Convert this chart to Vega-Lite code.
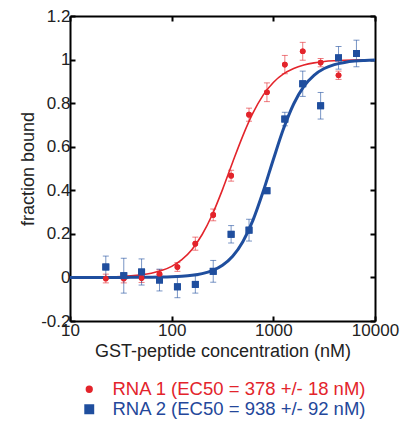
{
  "$schema": "https://vega.github.io/schema/vega-lite/v6.json",
  "width": 305,
  "height": 305,
  "autosize": {"type": "none"},
  "padding": {"left": 70, "top": 16, "right": 42, "bottom": 102},
  "background": "white",
  "config": {
    "font": "Liberation Sans",
    "view": {"stroke": null},
    "axis": {
      "domainColor": "black", "domainWidth": 2, "tickColor": "black", "tickWidth": 2,
      "tickSize": -5, "grid": false, "labelFont": "Liberation Sans", "labelFontSize": 17,
      "labelColor": "#222", "titleFont": "Liberation Sans", "titleFontSize": 18,
      "titleFontWeight": "normal", "titleColor": "#222"
    }
  },
  "datasets": {
    "pts": [
      {"series": "RNA 1", "conc": 22.5, "y": -0.005, "lo": -0.025, "hi": 0.015},
      {"series": "RNA 1", "conc": 33.8, "y": -0.005, "lo": -0.025, "hi": 0.015},
      {"series": "RNA 1", "conc": 50.6, "y": -0.003, "lo": -0.023, "hi": 0.017},
      {"series": "RNA 1", "conc": 75.9, "y": 0.015, "lo": -0.005, "hi": 0.035},
      {"series": "RNA 1", "conc": 113.9, "y": 0.048, "lo": 0.028, "hi": 0.068},
      {"series": "RNA 1", "conc": 170.9, "y": 0.155, "lo": 0.125, "hi": 0.185},
      {"series": "RNA 1", "conc": 256.3, "y": 0.287, "lo": 0.26, "hi": 0.314},
      {"series": "RNA 1", "conc": 384.4, "y": 0.467, "lo": 0.442, "hi": 0.492},
      {"series": "RNA 1", "conc": 576.7, "y": 0.747, "lo": 0.717, "hi": 0.777},
      {"series": "RNA 1", "conc": 865, "y": 0.85, "lo": 0.807, "hi": 0.893},
      {"series": "RNA 1", "conc": 1297.5, "y": 0.977, "lo": 0.935, "hi": 1.019},
      {"series": "RNA 1", "conc": 1946, "y": 1.038, "lo": 0.997, "hi": 1.079},
      {"series": "RNA 1", "conc": 2919, "y": 0.986, "lo": 0.967, "hi": 1.005},
      {"series": "RNA 1", "conc": 4379, "y": 0.928, "lo": 0.909, "hi": 0.947},
      {"series": "RNA 2", "conc": 22.5, "y": 0.048, "lo": -0.002, "hi": 0.098},
      {"series": "RNA 2", "conc": 33.8, "y": 0.008, "lo": -0.072, "hi": 0.088},
      {"series": "RNA 2", "conc": 50.6, "y": 0.025, "lo": -0.035, "hi": 0.085},
      {"series": "RNA 2", "conc": 75.9, "y": -0.012, "lo": -0.062, "hi": 0.038},
      {"series": "RNA 2", "conc": 113.9, "y": -0.043, "lo": -0.093, "hi": 0.007},
      {"series": "RNA 2", "conc": 170.9, "y": -0.032, "lo": -0.072, "hi": 0.008},
      {"series": "RNA 2", "conc": 256.3, "y": 0.028, "lo": -0.022, "hi": 0.078},
      {"series": "RNA 2", "conc": 384.4, "y": 0.198, "lo": 0.158, "hi": 0.238},
      {"series": "RNA 2", "conc": 576.7, "y": 0.217, "lo": 0.167, "hi": 0.267},
      {"series": "RNA 2", "conc": 865, "y": 0.398, "lo": 0.388, "hi": 0.408},
      {"series": "RNA 2", "conc": 1297.5, "y": 0.727, "lo": 0.696, "hi": 0.758},
      {"series": "RNA 2", "conc": 1946, "y": 0.889, "lo": 0.831, "hi": 0.947},
      {"series": "RNA 2", "conc": 2919, "y": 0.788, "lo": 0.727, "hi": 0.849},
      {"series": "RNA 2", "conc": 4379, "y": 1.008, "lo": 0.956, "hi": 1.06},
      {"series": "RNA 2", "conc": 6568, "y": 1.028, "lo": 0.967, "hi": 1.089}
    ],
    "fit": [
      {"series": "RNA 1", "conc": 10, "y": 0.0003},
      {"series": "RNA 1", "conc": 12.6, "y": 0.0006},
      {"series": "RNA 1", "conc": 15.8, "y": 0.0009},
      {"series": "RNA 1", "conc": 20, "y": 0.0016},
      {"series": "RNA 1", "conc": 25.1, "y": 0.0026},
      {"series": "RNA 1", "conc": 31.6, "y": 0.0043},
      {"series": "RNA 1", "conc": 39.8, "y": 0.007},
      {"series": "RNA 1", "conc": 50.1, "y": 0.0116},
      {"series": "RNA 1", "conc": 63.1, "y": 0.0191},
      {"series": "RNA 1", "conc": 79.4, "y": 0.0313},
      {"series": "RNA 1", "conc": 100, "y": 0.0509},
      {"series": "RNA 1", "conc": 125.9, "y": 0.0818},
      {"series": "RNA 1", "conc": 158.5, "y": 0.1287},
      {"series": "RNA 1", "conc": 199.5, "y": 0.197},
      {"series": "RNA 1", "conc": 251.2, "y": 0.289},
      {"series": "RNA 1", "conc": 316.2, "y": 0.403},
      {"series": "RNA 1", "conc": 398.1, "y": 0.529},
      {"series": "RNA 1", "conc": 501.2, "y": 0.65},
      {"series": "RNA 1", "conc": 631, "y": 0.755},
      {"series": "RNA 1", "conc": 794.3, "y": 0.837},
      {"series": "RNA 1", "conc": 1000, "y": 0.895},
      {"series": "RNA 1", "conc": 1258.9, "y": 0.934},
      {"series": "RNA 1", "conc": 1584.9, "y": 0.959},
      {"series": "RNA 1", "conc": 1995.3, "y": 0.975},
      {"series": "RNA 1", "conc": 2511.9, "y": 0.985},
      {"series": "RNA 1", "conc": 3162.3, "y": 0.991},
      {"series": "RNA 1", "conc": 3981.1, "y": 0.9944},
      {"series": "RNA 1", "conc": 5011.9, "y": 0.9966},
      {"series": "RNA 1", "conc": 6309.6, "y": 0.998},
      {"series": "RNA 1", "conc": 7943.3, "y": 0.9988},
      {"series": "RNA 1", "conc": 10000, "y": 0.9993},
      {"series": "RNA 2", "conc": 10, "y": 0.0},
      {"series": "RNA 2", "conc": 31.6, "y": 0.0002},
      {"series": "RNA 2", "conc": 39.8, "y": 0.0003},
      {"series": "RNA 2", "conc": 50.1, "y": 0.0005},
      {"series": "RNA 2", "conc": 63.1, "y": 0.0009},
      {"series": "RNA 2", "conc": 79.4, "y": 0.0016},
      {"series": "RNA 2", "conc": 100, "y": 0.003},
      {"series": "RNA 2", "conc": 125.9, "y": 0.0054},
      {"series": "RNA 2", "conc": 158.5, "y": 0.0097},
      {"series": "RNA 2", "conc": 199.5, "y": 0.0176},
      {"series": "RNA 2", "conc": 251.2, "y": 0.0315},
      {"series": "RNA 2", "conc": 316.2, "y": 0.0559},
      {"series": "RNA 2", "conc": 398.1, "y": 0.0972},
      {"series": "RNA 2", "conc": 501.2, "y": 0.164},
      {"series": "RNA 2", "conc": 631, "y": 0.263},
      {"series": "RNA 2", "conc": 794.3, "y": 0.394},
      {"series": "RNA 2", "conc": 1000, "y": 0.5415},
      {"series": "RNA 2", "conc": 1258.9, "y": 0.682},
      {"series": "RNA 2", "conc": 1584.9, "y": 0.796},
      {"series": "RNA 2", "conc": 1995.3, "y": 0.877},
      {"series": "RNA 2", "conc": 2511.9, "y": 0.928},
      {"series": "RNA 2", "conc": 3162.3, "y": 0.959},
      {"series": "RNA 2", "conc": 3981.1, "y": 0.977},
      {"series": "RNA 2", "conc": 5011.9, "y": 0.987},
      {"series": "RNA 2", "conc": 6309.6, "y": 0.993},
      {"series": "RNA 2", "conc": 7943.3, "y": 0.996},
      {"series": "RNA 2", "conc": 10000, "y": 0.998}
    ]
  },
  "resolve": {"axis": {"x": "independent", "y": "independent"}},
  "layer": [
    {
      "data": {"name": "pts"},
      "mark": {"type": "point", "filled": true, "opacity": 1},
      "encoding": {
        "x": {"field": "conc", "type": "quantitative", "scale": {"type": "log", "domain": [10, 10000]},
          "axis": {"orient": "bottom", "values": [10, 100, 1000, 10000], "labelExpr": "toString(datum.value)",
            "title": "GST-peptide concentration (nM)", "titlePadding": 4, "labelPadding": 6, "labelFlush": false}},
        "y": {"field": "y", "type": "quantitative", "scale": {"domain": [-0.2, 1.2], "nice": false, "zero": false},
          "axis": {"orient": "left", "values": [-0.2, 0, 0.2, 0.4, 0.6, 0.8, 1, 1.2],
            "labelExpr": "toString(round(datum.value*10)/10)", "title": "fraction bound", "titlePadding": 3, "labelPadding": 5}},
        "color": {"field": "series", "type": "nominal",
          "scale": {"domain": ["RNA 1", "RNA 2"], "range": ["#e3242b", "#1f4e9e"]},
          "legend": {
            "orient": "none", "legendX": 10, "legendY": 364, "title": null,
            "labelFontSize": 18.5, "labelFont": "Liberation Sans", "rowPadding": 0, "labelOffset": 14,
            "labelLimit": 0,
            "labelColor": {"expr": "datum.value == 'RNA 1' ? '#e3242b' : '#24479a'"},
            "labelExpr": "datum.value == 'RNA 1' ? 'RNA 1 (EC50 = 378 +/- 18 nM)' : 'RNA 2 (EC50 = 938 +/- 92 nM)'"
          }},
        "shape": {"field": "series", "type": "nominal", "scale": {"domain": ["RNA 1", "RNA 2"], "range": ["circle", "square"]}, "legend": null},
        "size": {"field": "series", "type": "nominal", "scale": {"domain": ["RNA 1", "RNA 2"], "range": [32, 48]}, "legend": null}
      }
    },
    {
      "data": {"name": "pts"},
      "mark": {"type": "errorbar", "ticks": {"size": 6}, "thickness": 1, "opacity": 0.6},
      "encoding": {
        "x": {"field": "conc", "type": "quantitative", "axis": null},
        "y": {"field": "lo", "type": "quantitative", "axis": null},
        "y2": {"field": "hi"},
        "color": {"field": "series", "type": "nominal"}
      }
    },
    {
      "data": {"name": "fit"},
      "mark": {"type": "line", "interpolate": "monotone"},
      "encoding": {
        "x": {"field": "conc", "type": "quantitative", "axis": null},
        "y": {"field": "y", "type": "quantitative", "axis": null},
        "color": {"field": "series", "type": "nominal"},
        "strokeWidth": {"field": "series", "type": "nominal", "scale": {"domain": ["RNA 1", "RNA 2"], "range": [1.6, 3]}, "legend": null}
      }
    },
    {
      "data": {"name": "pts"},
      "mark": {"type": "point", "filled": true, "opacity": 1},
      "encoding": {
        "x": {"field": "conc", "type": "quantitative",
          "axis": {"orient": "top", "values": [10, 100, 1000, 10000], "labels": false, "title": null}},
        "y": {"field": "y", "type": "quantitative",
          "axis": {"orient": "right", "values": [-0.2, 0, 0.2, 0.4, 0.6, 0.8, 1, 1.2], "labels": false, "title": null}},
        "color": {"field": "series", "type": "nominal"},
        "shape": {"field": "series", "type": "nominal"},
        "size": {"field": "series", "type": "nominal"}
      }
    }
  ]
}
